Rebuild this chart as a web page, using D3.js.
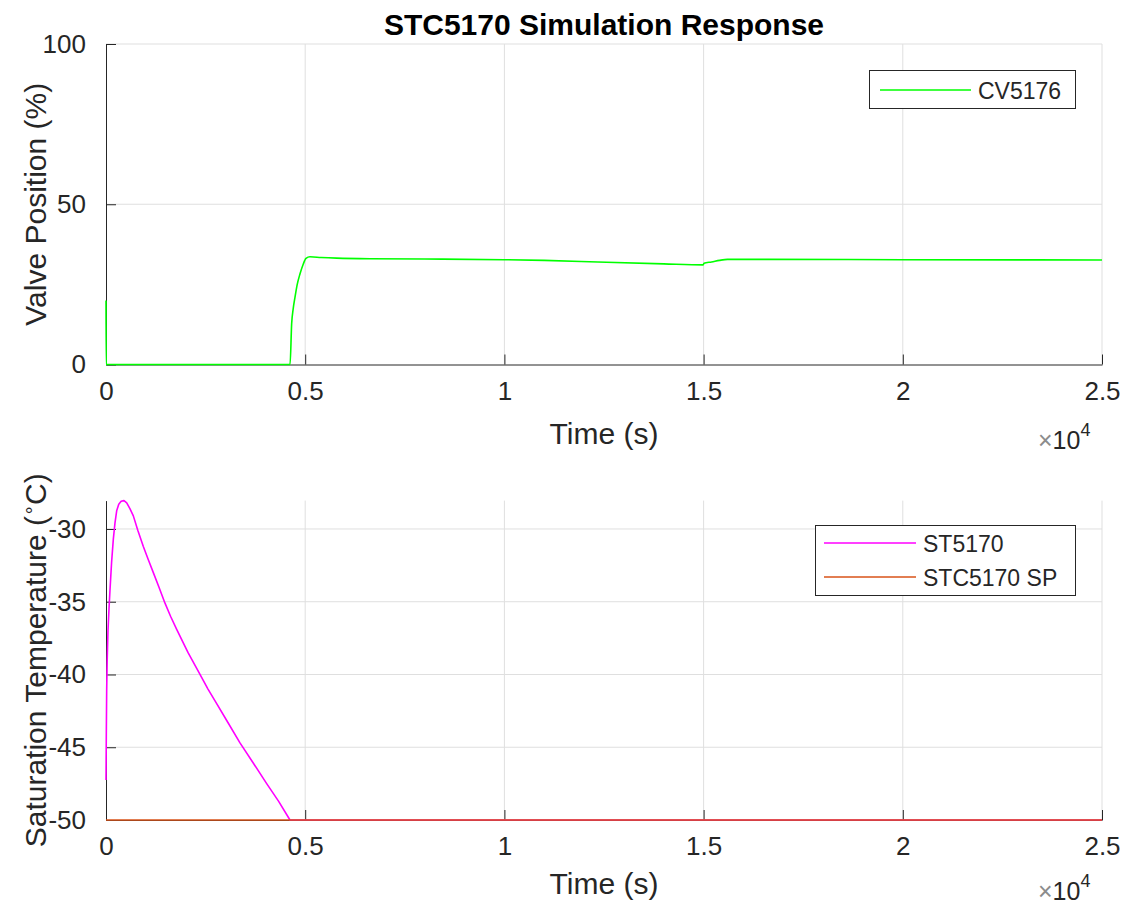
<!DOCTYPE html>
<html>
<head>
<meta charset="utf-8">
<script src="https://cdn.jsdelivr.net/npm/d3@7"></script>
<style>
  html, body { margin: 0; padding: 0; background: #fff; }
  svg { display: block; font-family: "Liberation Sans", Arial, Helvetica, sans-serif; }
</style>
</head>
<body>
<svg id="chart" width="1128" height="908"></svg>
<script>
// ---- data ----
const cvTime  = [0, 5, 4600, 4620, 4660, 4700, 4744, 4800, 4870, 4950, 5020, 5120, 5400, 5790, 6627, 8000, 10000, 11000, 12560, 14000, 14990, 15010, 15200, 15400, 15600, 16500, 20000, 25000];
const cvValue = [20, 0, 0, 0, 12.7, 17.5, 21, 25, 28.3, 31.3, 33.1, 33.6, 33.4, 33.2, 33.0, 32.9, 32.7, 32.5, 31.9, 31.4, 31.1, 31.6, 32.0, 32.5, 32.8, 32.8, 32.7, 32.6];

const stTime  = [0, 8, 17, 30, 50, 75, 100, 140, 184, 225, 268, 320, 380, 452, 520, 600, 686, 800, 937, 1060, 1188, 1330, 1481, 1620, 1774, 2060, 2359, 2560, 2778, 3060, 3363, 3700, 4033, 4330, 4618, 25000];
const stValue = [-47.25, -44, -41.1, -39, -37, -35.5, -34.2, -32.3, -30.7, -29.6, -28.75, -28.3, -28.1, -28.05, -28.2, -28.6, -29.1, -30.1, -31.2, -32.1, -33.0, -34.0, -35.1, -36.0, -36.9, -38.5, -40.0, -41.0, -42.0, -43.3, -44.7, -46.1, -47.5, -48.7, -50, -50];

const spTime  = [0, 25000];
const spValue = [-50, -50];

const xTicks      = [0, 5000, 10000, 15000, 20000, 25000];
const xTickLabels = ["0", "0.5", "1", "1.5", "2", "2.5"];
const topYTicks   = [0, 50, 100];
const botYTicks   = [-50, -45, -40, -35, -30];

// ---- layout ----
const svg = d3.select("#chart");
const axisColor = "#262626";
const gridColor = "#dfdfdf";
const tickFont = 26;
const labelFont = 30;

const x = d3.scaleLinear().domain([0, 25000]).range([106, 1102]);
const yTop = d3.scaleLinear().domain([0, 100]).range([364.5, 44]);
const yBot = d3.scaleLinear().domain([-50, d3.max(stValue)]).range([820, 500.6]);

function drawPanel(y, yTicks, opts) {
  const g = svg.append("g");
  const [y0, y1] = y.range();

  // grid
  g.selectAll("line.gx").data(xTicks.filter(d => d > 0)).enter().append("line")
    .attr("x1", d => x(d)).attr("x2", d => x(d))
    .attr("y1", y0).attr("y2", y1)
    .attr("stroke", gridColor).attr("stroke-width", 1);
  g.selectAll("line.gy").data(yTicks.filter(d => d !== y.domain()[0])).enter().append("line")
    .attr("x1", x.range()[0]).attr("x2", x.range()[1])
    .attr("y1", d => y(d)).attr("y2", d => y(d))
    .attr("stroke", gridColor).attr("stroke-width", 1);

  // x axis (ticks point inward)
  const xAxis = d3.axisBottom(x).tickValues(xTicks)
    .tickFormat((d, i) => xTickLabels[i]).tickSizeInner(-10).tickSizeOuter(0).tickPadding(17);
  const gx = g.append("g").attr("transform", `translate(0,${y0})`).call(xAxis);
  gx.select(".domain").attr("stroke", axisColor);
  gx.selectAll(".tick line").attr("stroke", axisColor);
  gx.selectAll(".tick text").attr("fill", axisColor).attr("font-size", tickFont)
    .attr("font-family", "Liberation Sans, Arial, sans-serif");

  // y axis, plain hyphen for negative numbers
  const yAxis = d3.axisLeft(y).tickValues(yTicks).tickFormat(d => String(d))
    .tickSizeInner(-10).tickSizeOuter(0).tickPadding(20);
  const gy = g.append("g").attr("transform", `translate(${x.range()[0]},0)`).call(yAxis);
  gy.select(".domain").attr("stroke", axisColor);
  gy.selectAll(".tick line").attr("stroke", axisColor);
  gy.selectAll(".tick text").attr("fill", axisColor).attr("font-size", tickFont)
    .attr("font-family", "Liberation Sans, Arial, sans-serif");

  // x label
  g.append("text").attr("x", 604).attr("y", opts.xLabelY)
    .attr("text-anchor", "middle").attr("font-size", labelFont).attr("fill", axisColor)
    .text("Time (s)");

  // exponent label
  const ex = g.append("text").attr("x", 1038).attr("y", opts.expY)
    .attr("font-size", 25).attr("fill", axisColor);
  ex.append("tspan").attr("fill", "#8c8c8c").text("\u00d7");
  ex.append("tspan").text("10");
  ex.append("tspan").attr("dy", -13).attr("font-size", 18).text("4");

  return g;
}

const smoothLine = (xs, ys, y) => d3.line()
  .x((d, i) => x(xs[i])).y((d, i) => y(ys[i]))
  .curve(d3.curveMonotoneX)(xs);
const straightLine = (xs, ys, y) => d3.line()
  .x((d, i) => x(xs[i])).y((d, i) => y(ys[i]))(xs);

// ---- top panel ----
drawPanel(yTop, topYTicks, { xLabelY: 444, expY: 449 });
svg.append("path").attr("d", smoothLine(cvTime, cvValue, yTop))
  .attr("fill", "none").attr("stroke", "#00ff00").attr("stroke-width", 1.6);

svg.append("text")
  .attr("transform", `translate(46,${(yTop.range()[0] + yTop.range()[1]) / 2}) rotate(-90)`)
  .attr("text-anchor", "middle").attr("font-size", labelFont).attr("fill", axisColor)
  .text("Valve Position (%)");

// title
svg.append("text").attr("x", 604).attr("y", 35).attr("text-anchor", "middle")
  .attr("font-size", 30).attr("font-weight", "bold").attr("fill", "#000")
  .text("STC5170 Simulation Response");

// top legend
const lg1 = svg.append("g");
lg1.append("rect").attr("x", 869.5).attr("y", 70.5).attr("width", 206).attr("height", 38)
  .attr("fill", "#fff").attr("stroke", axisColor).attr("stroke-width", 1);
lg1.append("line").attr("x1", 880).attr("x2", 971).attr("y1", 90).attr("y2", 90)
  .attr("stroke", "#00ff00").attr("stroke-width", 1.6);
lg1.append("text").attr("x", 978).attr("y", 99).attr("font-size", 23).attr("fill", axisColor).text("CV5176");

// ---- bottom panel ----
drawPanel(yBot, botYTicks, { xLabelY: 894, expY: 900 });
svg.append("path").attr("d", straightLine(stTime, stValue, yBot))
  .attr("fill", "none").attr("stroke", "#ff00ff").attr("stroke-width", 1.6)
  .attr("stroke-linejoin", "round");
svg.append("path").attr("d", straightLine(spTime, spValue, yBot))
  .attr("fill", "none").attr("stroke", "#D95319").attr("stroke-width", 1.6);

const yl2 = svg.append("text")
  .attr("transform", `translate(46,${(yBot.range()[0] + yBot.range()[1]) / 2}) rotate(-90)`)
  .attr("text-anchor", "middle").attr("font-size", labelFont).attr("fill", axisColor);
yl2.append("tspan").text("Saturation Temperature (");
yl2.append("tspan").attr("dy", -12).attr("font-size", 18).text("\u2218");
yl2.append("tspan").attr("dy", 12).text("C)");

// bottom legend
const lg2 = svg.append("g");
lg2.append("rect").attr("x", 815.5).attr("y", 525.5).attr("width", 260).attr("height", 70)
  .attr("fill", "#fff").attr("stroke", axisColor).attr("stroke-width", 1);
lg2.append("line").attr("x1", 824).attr("x2", 916).attr("y1", 543).attr("y2", 543)
  .attr("stroke", "#ff00ff").attr("stroke-width", 1.6);
lg2.append("text").attr("x", 923).attr("y", 552).attr("font-size", 23).attr("fill", axisColor).text("ST5170");
lg2.append("line").attr("x1", 824).attr("x2", 916).attr("y1", 577).attr("y2", 577)
  .attr("stroke", "#D95319").attr("stroke-width", 1.6);
lg2.append("text").attr("x", 923).attr("y", 586).attr("font-size", 23).attr("fill", axisColor).text("STC5170 SP");
</script>
</body>
</html>
